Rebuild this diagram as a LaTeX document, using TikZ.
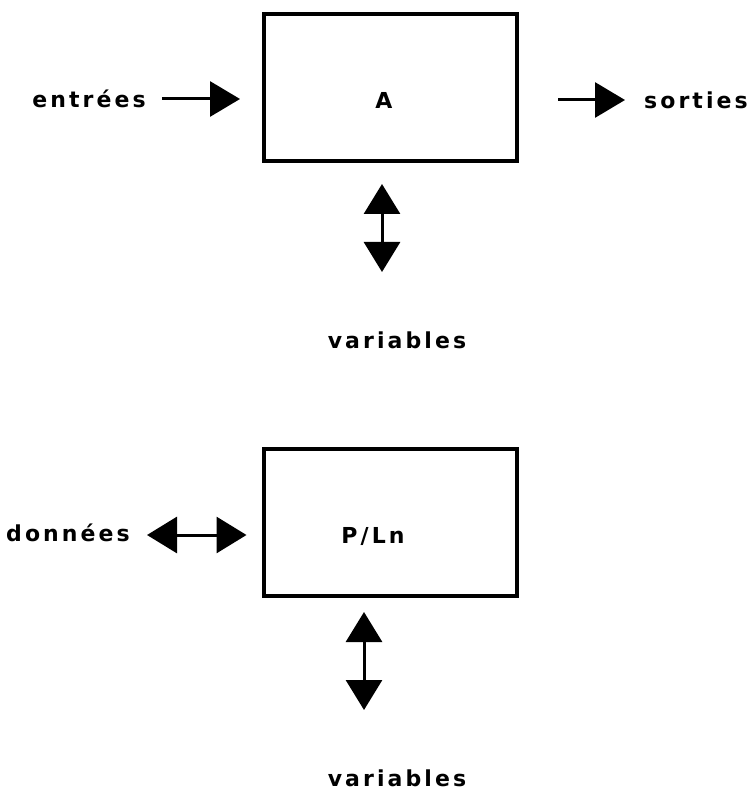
\documentclass[tikz,border=0pt]{standalone}
\usepackage{fontspec}
\setmainfont{DejaVu Sans}[LetterSpace=14]
\usetikzlibrary{arrows.meta}
\begin{document}
\begin{tikzpicture}[x=1pt,y=-1pt,
  lbl/.style={inner sep=0pt, font=\fontsize{22}{26}\selectfont\bfseries},
  blk/.style={draw, line width=4pt, minimum width=253pt, minimum height=147pt, inner sep=0pt},
  arr/.style={line width=3pt, -{Triangle[length=30pt,width=35pt]}},
  dbl/.style={line width=3pt, {Triangle[length=30pt,width=36pt]}-{Triangle[length=30pt,width=36pt]}}]
\useasboundingbox (0,0) rectangle (752,791);
% top diagram
\node[blk] (A) at (390.5,87.5) {};
\node[lbl] (Alab) at (384,100) {A};
\node[lbl] (entrees) at (89,99) {entrées};
\node[lbl] (sorties) at (696,100) {sorties};
\node[lbl] (var1) at (397,340) {variables};
\coordinate (v1) at (382,272);
\coordinate (s1) at (558,100);
\draw[arr, shorten <=16pt, shorten >=22pt] (entrees.east) -- (entrees.east -| A.west);
\draw[arr] (s1) -- (625,100) coordinate (s2);
\draw[dbl, shorten <=21pt] (A.south -| v1) -- (v1);
% bottom diagram
\node[blk] (P) at (390,522.5) {};
\node[lbl] (Plab) at (373,536) {P/Ln};
\node[lbl] (donnees) at (68,533) {données};
\node[lbl] (var2) at (397,778) {variables};
\coordinate (d1) at (147,535);
\coordinate (v2) at (364,710);
\draw[dbl, shorten >=15pt] (d1) -- (d1 -| P.west);
\draw[dbl, shorten <=14pt] (P.south -| v2) -- (v2);
\end{tikzpicture}
\end{document}
